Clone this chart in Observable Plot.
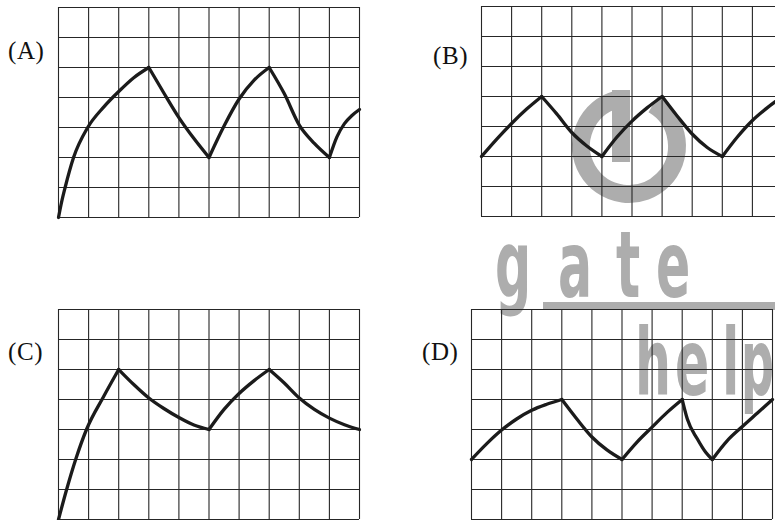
<!DOCTYPE html>
<html>
<head>
<meta charset="utf-8">
<script src="https://cdn.jsdelivr.net/npm/d3@7"></script>
<script src="https://cdn.jsdelivr.net/npm/@observablehq/plot@0.6"></script>
<style>
  html, body { margin: 0; padding: 0; background: #fff; overflow: hidden; }
  #page { position: relative; width: 775px; height: 520px; overflow: hidden; }
  .panel { position: absolute; z-index: 2; }
  .label {
    position: absolute; z-index: 2;
    font-family: "Liberation Serif", "DejaVu Serif", serif;
    font-size: 25px; letter-spacing: 0.6px; color: #111; line-height: 1;
  }
  #mark { position: absolute; left: 0; top: 0; z-index: 1; }
</style>
</head>
<body>
<div id="page"></div>
<script>
// Grid: 10 columns by 7 rows per oscilloscope panel.
const xTicks = [0, 1, 2, 3, 4, 5, 6, 7, 8, 9, 10];
const yTicks = [0, 1, 2, 3, 4, 5, 6, 7];

// Each panel's trace as a list of arcs (charge / discharge segments), [x, y] in grid units.
const traceA = [
  [[0, 0], [0.1, 0.5], [0.22, 1], [0.5, 2], [0.97, 3], [1.5, 3.68], [2, 4.2], [2.5, 4.66], [3, 5]],
  [[3, 5], [3.5, 4.15], [4, 3.33], [4.5, 2.63], [5, 2]],
  [[5, 2], [5.5, 3.05], [6, 3.95], [6.5, 4.58], [7, 5]],
  [[7, 5], [7.5, 4.13], [8, 3.08], [8.5, 2.47], [9, 2]],
  [[9, 2], [9.25, 2.69], [9.5, 3.13], [9.75, 3.4], [10, 3.6]]
];
const traceB = [
  [[0, 2], [0.5, 2.57], [1, 3.1], [1.5, 3.58], [2, 4]],
  [[2, 4], [2.5, 3.42], [3, 2.8], [3.5, 2.35], [4, 2]],
  [[4, 2], [4.5, 2.65], [5, 3.18], [5.5, 3.62], [6, 4]],
  [[6, 4], [6.5, 3.35], [7, 2.75], [7.5, 2.3], [8, 2]],
  [[8, 2], [8.5, 2.65], [9, 3.2], [9.5, 3.63], [10, 4]]
];
const traceC = [
  [[0, 0], [0.27, 1], [0.57, 2], [0.93, 3], [1.5, 4.1], [2, 5]],
  [[2, 5], [2.5, 4.5], [3, 4.05], [3.5, 3.7], [4, 3.4], [4.5, 3.15], [5, 3]],
  [[5, 3], [5.5, 3.67], [6, 4.2], [6.5, 4.63], [7, 5]],
  [[7, 5], [7.5, 4.55], [8, 4.05], [8.5, 3.67], [9, 3.38], [9.5, 3.16], [10, 3]]
];
const traceD = [
  [[0, 2], [0.5, 2.52], [1, 2.98], [1.5, 3.35], [2, 3.64], [2.5, 3.84], [3, 4]],
  [[3, 4], [3.5, 3.35], [4, 2.75], [4.5, 2.32], [5, 2]],
  [[5, 2], [5.5, 2.58], [6, 3.08], [6.5, 3.57], [7, 4]],
  [[7, 4], [7.17, 3.35], [7.5, 2.69], [7.78, 2.24], [8, 2]],
  [[8, 2], [8.5, 2.63], [9, 3.1], [9.5, 3.55], [10, 4]]
];
const panelLabels = ["(A)", "(B)", "(C)", "(D)"];

// Panel placement on the page (frame left/top in px) and label anchors.
const layout = [
  {trace: traceA, left: 58,  top: 6.5,   lx: 8,   ly: 38},
  {trace: traceB, left: 481, top: 6,     lx: 433, ly: 43},
  {trace: traceC, left: 58,  top: 309.3, lx: 8,   ly: 339},
  {trace: traceD, left: 471, top: 308.7, lx: 422, ly: 339}
];

const FRAME_W = 301, FRAME_H = 210, PAD = 4;
const page = document.getElementById("page");

// Faint watermark behind the panels.
const wm = d3.select(page).append("svg")
  .attr("id", "mark").attr("width", 775).attr("height", 520);
const gray = "#adadad";
wm.append("path")
  .attr("d", (() => {
    const cx = 629, cy = 146, r = 48, a0 = -60 * Math.PI / 180, a1 = 255 * Math.PI / 180;
    return `M${cx + r * Math.cos(a0)},${cy + r * Math.sin(a0)} A${r},${r} 0 1 1 ${cx + r * Math.cos(a1)},${cy + r * Math.sin(a1)}`;
  })())
  .attr("fill", "none").attr("stroke", gray).attr("stroke-width", 18);
wm.append("rect").attr("x", 612).attr("y", 90).attr("width", 18).attr("height", 72).attr("fill", gray);
wm.append("rect").attr("x", 543).attr("y", 302).attr("width", 240).attr("height", 8).attr("fill", gray);
const letters = [
  {ch: "g", x: 495, y: 297, s: 0.55}, {ch: "a", x: 558, y: 297, s: 0.55},
  {ch: "t", x: 616, y: 297, s: 0.55}, {ch: "e", x: 656, y: 297, s: 0.55},
  {ch: "h", x: 635, y: 395, s: 0.55}, {ch: "e", x: 675, y: 395, s: 0.55},
  {ch: "l", x: 722, y: 395, s: 0.55}, {ch: "p", x: 741, y: 395, s: 0.5}
];
wm.selectAll("text.wm").data(letters).join("text")
  .attr("class", "wm")
  .attr("transform", d => `translate(${d.x},${d.y}) scale(${d.s},1)`)
  .attr("font-family", "DejaVu Sans")
  .attr("font-weight", "bold")
  .attr("font-size", 92)
  .attr("fill", gray)
  .text(d => d.ch);

layout.forEach((p, i) => {
  const rows = p.trace.flatMap((arc, k) => arc.map(([x, y]) => ({x, y, arc: k})));
  const chart = Plot.plot({
    width: FRAME_W + 2 * PAD,
    height: FRAME_H + 2 * PAD,
    margin: PAD,
    x: {domain: [0, 10], axis: null},
    y: {domain: [0, 7], axis: null},
    style: {background: "transparent", overflow: "visible"},
    marks: [
      Plot.ruleX(xTicks, {stroke: "#262626", strokeWidth: 1.1}),
      Plot.ruleY(yTicks, {stroke: "#262626", strokeWidth: 1.1}),
      Plot.line(rows, {
        x: "x", y: "y", z: "arc",
        curve: "monotone-x",
        stroke: "#1b1b1b", strokeWidth: 3.3,
        strokeLinejoin: "round", strokeLinecap: "round"
      })
    ]
  });
  chart.classList.add("panel");
  chart.style.left = (p.left - PAD) + "px";
  chart.style.top = (p.top - PAD) + "px";
  chart.style.maxWidth = "none";
  page.appendChild(chart);

  const lab = document.createElement("div");
  lab.className = "label";
  lab.textContent = panelLabels[i];
  lab.style.left = p.lx + "px";
  lab.style.top = p.ly + "px";
  page.appendChild(lab);
});
</script>
</body>
</html>
